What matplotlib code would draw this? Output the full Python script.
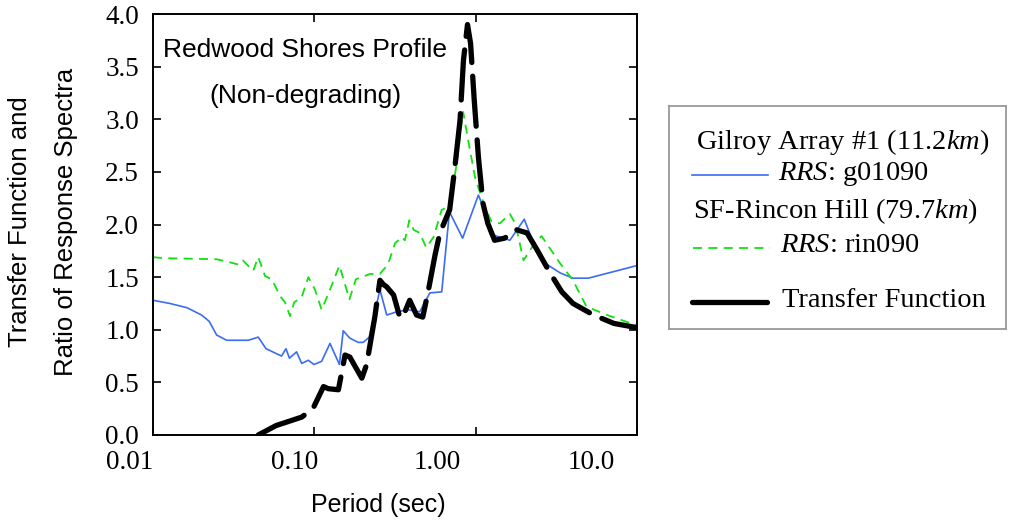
import numpy as np
import matplotlib
matplotlib.use("Agg")
import matplotlib.pyplot as plt
import matplotlib.transforms as mtransforms
from matplotlib.ticker import NullLocator

plt.rcParams["mathtext.fontset"] = "custom"
plt.rcParams["mathtext.rm"] = "Liberation Serif"
plt.rcParams["mathtext.it"] = "Liberation Serif:italic"

# RRS, SF-Rincon Hill (rin090)
rin_period = [0.010, 0.0116, 0.0248, 0.030, 0.0338, 0.036, 0.0418, 0.0449, 0.0495, 0.0545,
              0.0613, 0.0658, 0.0707, 0.0749, 0.0835, 0.0918, 0.101, 0.111, 0.125, 0.143,
              0.165, 0.181, 0.221, 0.255, 0.286, 0.316, 0.347, 0.364, 0.388, 0.412,
              0.450, 0.494, 0.548, 0.616, 0.688, 0.758, 0.836, 0.921, 0.991, 1.05,
              1.14, 1.25, 1.41, 1.63, 1.76, 1.98, 2.29, 2.56, 3.34, 4.01,
              4.86, 6.53, 10.0]
rin_ratio = [1.69, 1.68, 1.67, 1.64, 1.62, 1.66, 1.56, 1.69, 1.51, 1.48,
             1.32, 1.26, 1.13, 1.26, 1.31, 1.50, 1.38, 1.19, 1.38, 1.61,
             1.29, 1.48, 1.53, 1.53, 1.62, 1.82, 1.88, 1.85, 2.04, 1.95,
             1.92, 1.78, 1.88, 2.14, 2.17, 2.55, 3.07, 2.71, 2.45, 2.33,
             2.17, 2.03, 2.01, 2.10, 2.01, 1.66, 1.81, 1.89, 1.63, 1.47,
             1.22, 1.14, 1.04]

# RRS, Gilroy Array #1 (g01090)
gil_period = [0.010, 0.0127, 0.0162, 0.0200, 0.0223, 0.0248, 0.0286, 0.0390, 0.0449, 0.0502,
              0.0626, 0.0667, 0.0701, 0.0776, 0.0835, 0.0918, 0.0994, 0.111, 0.125, 0.143,
              0.151, 0.166, 0.187, 0.201, 0.219, 0.255, 0.281, 0.324, 0.38, 0.45,
              0.52, 0.616, 0.688, 0.83, 1.04, 1.11, 1.23, 1.41, 1.63, 2.00,
              2.29, 2.77, 3.34, 4.01, 4.99, 10.0]
gil_ratio = [1.28, 1.25, 1.21, 1.14, 1.08, 0.95, 0.90, 0.90, 0.93, 0.82,
             0.75, 0.82, 0.73, 0.79, 0.68, 0.71, 0.67, 0.70, 0.87, 0.67,
             0.99, 0.92, 0.88, 0.88, 0.93, 1.38, 1.14, 1.17, 1.19, 1.17,
             1.35, 1.36, 2.12, 1.87, 2.28, 2.17, 1.91, 1.88, 1.85, 2.05,
             1.82, 1.62, 1.54, 1.49, 1.49, 1.61]

# transfer function
tf_period = [0.0449, 0.058, 0.0835, 0.098, 0.114, 0.122, 0.141, 0.155, 0.166, 0.197,
             0.211, 0.237, 0.255, 0.268, 0.28, 0.31, 0.34, 0.364, 0.39, 0.43,
             0.47, 0.51, 0.56, 0.60, 0.69, 0.74, 0.80, 0.84, 0.89, 0.93,
             0.98, 1.04, 1.11, 1.19, 1.31, 1.51, 1.79, 2.08, 2.40, 2.89,
             3.42, 4.01, 5.38, 7.20, 10.0]
tf_value = [0.00, 0.09, 0.17, 0.25, 0.46, 0.44, 0.43, 0.76, 0.74, 0.54,
            0.67, 1.12, 1.47, 1.43, 1.41, 1.33, 1.11, 1.17, 1.28, 1.14,
            1.12, 1.38, 1.71, 1.92, 2.14, 2.52, 2.99, 3.56, 3.90, 3.72,
            3.18, 2.64, 2.20, 2.01, 1.85, 1.87, 1.95, 1.92, 1.76, 1.54,
            1.36, 1.25, 1.14, 1.06, 1.02]

x_ticks = [0.01, 0.1, 1.0, 10.0]
x_ticklabels = ["0.01", "0.10", "1.00", "10.0"]
x_label_shift = [-23, -20, -38, -46]  # px, labels sit left of their ticks in the original
y_ticks = np.arange(0, 4.01, 0.5)

BLUE = "#3b6cf2"
GREEN = "#11e011"

fig = plt.figure(figsize=(10.09, 5.22), dpi=100)
ax = fig.add_axes([153 / 1009, 1 - 435 / 522, 484 / 1009, 421 / 522])

ax.plot(gil_period, gil_ratio, color=BLUE, lw=1.2)
ax.plot(rin_period, rin_ratio, color=GREEN, lw=1.3, dashes=(5, 3.5))
ax.plot(tf_period, tf_value, color="black", lw=3.8, dashes=(9.5, 2.6),
        dash_capstyle="round", solid_capstyle="round")

ax.set_xscale("log")
ax.set_xlim(0.01, 10)
ax.set_ylim(0, 4)
ax.xaxis.set_minor_locator(NullLocator())
ax.set_xticks(x_ticks, labels=x_ticklabels)
ax.set_yticks(y_ticks, labels=[f"{v:.1f}" for v in y_ticks])
ax.tick_params(direction="in", top=True, right=True, length=6, width=1.2,
               labelsize=19.5, labelfontfamily="Liberation Serif")
ax.tick_params(axis="x", pad=11)
ax.tick_params(axis="y", pad=10)
for lbl, dx in zip(ax.get_xticklabels(), x_label_shift):
    lbl.set_transform(lbl.get_transform() + mtransforms.ScaledTranslation(dx / 100, 0, fig.dpi_scale_trans))
for s in ax.spines.values():
    s.set_linewidth(1.4)

sans = "Liberation Sans"
ax.text(0.315, 0.915, "Redwood Shores Profile", transform=ax.transAxes, ha="center", va="center",
        fontsize=19, family=sans)
ax.text(0.315, 0.805, "(Non-degrading)", transform=ax.transAxes, ha="center", va="center",
        fontsize=19, family=sans)

fig.text(378 / 1009, 1 - 505 / 522, "Period (sec)", ha="center", va="center", fontsize=18, family=sans)
fig.text(20 / 1009, 1 - 222 / 522, "Transfer Function and", rotation=90, ha="center", va="center",
         fontsize=18.5, family=sans)
fig.text(66 / 1009, 1 - 222 / 522, "Ratio of Response Spectra", rotation=90, ha="center", va="center",
         fontsize=18.5, family=sans)

# legend box drawn by hand, in pixel coordinates of the figure
lax = fig.add_axes([669 / 1009, 1 - 329 / 522, 337 / 1009, 223 / 522])
lax.set_xlim(669, 1006)
lax.set_ylim(329, 106)
lax.set_xticks([])
lax.set_yticks([])
for s in lax.spines.values():
    s.set_color("#999999")
    s.set_linewidth(1.3)

serif = "Liberation Serif"
lsize = 20.5
lax.text(843, 142, r"Gilroy Array #1 (11.2$\mathit{km}$)", ha="center", va="center", fontsize=lsize, family=serif)
lax.plot([692, 768], [175, 175], color=BLUE, lw=1.2)
lax.text(778, 174, r"$\mathit{RRS}$: g01090", ha="left", va="center", fontsize=lsize, family=serif)
lax.text(835, 211, r"SF-Rincon Hill (79.7$\mathit{km}$)", ha="center", va="center", fontsize=lsize, family=serif)
lax.plot([693, 770], [248, 248], color=GREEN, lw=1.3, dashes=(5, 3.5))
lax.text(780, 246, r"$\mathit{RRS}$: rin090", ha="left", va="center", fontsize=lsize, family=serif)
lax.plot([692, 767], [302, 302], color="black", lw=3.8, solid_capstyle="round")
lax.text(782, 301, "Transfer Function", ha="left", va="center", fontsize=lsize, family=serif)

fig.savefig("out.png", dpi=100)
